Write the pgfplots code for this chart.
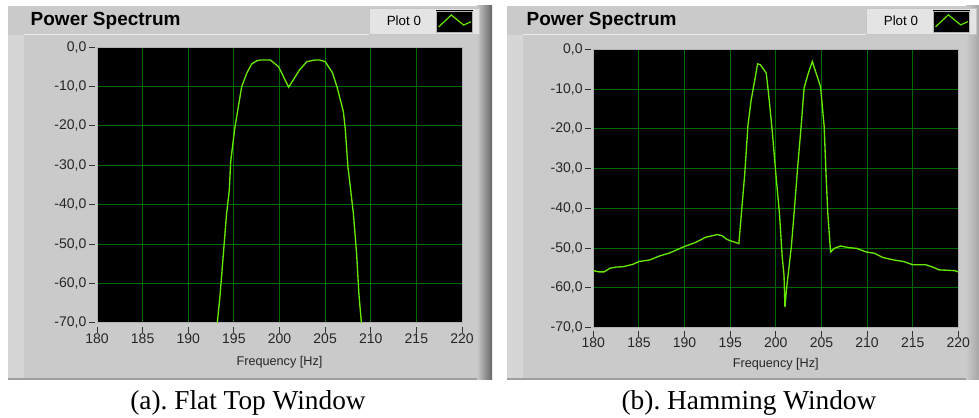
\documentclass[border=0pt]{standalone}
\usepackage{fontspec}
\setmainfont{Liberation Sans}
\newfontfamily\capfont{Liberation Serif}
\usepackage{pgfplots}
\pgfplotsset{compat=1.18}
\definecolor{panelgray}{RGB}{202,202,202}
\definecolor{panellight}{RGB}{214,214,214}
\definecolor{legendfill}{RGB}{228,228,228}
\definecolor{gridgreen}{RGB}{0,105,0}
\definecolor{curvegreen}{RGB}{102,232,0}

\pgfplotsset{
  lvaxis/.style={
    scale only axis,
    width=273.75pt,
    xmin=180, xmax=220, ymin=-70, ymax=0,
    xtick={180,185,...,220},
    xticklabels={180,185,190,195,200,205,210,215,220},
    ytick={-70,-60,...,0},
    yticklabels={{-70,0},{-60,0},{-50,0},{-40,0},{-30,0},{-20,0},{-10,0},{0,0}},
    grid=major,
    major grid style={gridgreen, line width=0.75pt},
    axis background/.style={fill=black},
    axis line style={gray!60, line width=0.75pt},
    tick align=outside,
    tick pos=left,
    major tick length=4.5pt,
    tick style={black!80, line width=0.75pt},
    xtick style={yshift=-3pt},
    ytick style={xshift=-1.5pt},
    ticklabel style={font=\fontsize{10.5}{12}\selectfont, text=black!85},
    xlabel={Frequency [Hz]},
    xlabel style={font=\fontsize{9.5}{11}\selectfont, text=black!85},
    legend plot pos=right,
    legend style={anchor=north east, fill=legendfill, draw=gray!45,
      inner xsep=5pt, inner ysep=1.5pt, nodes={inner sep=0pt},
      font=\fontsize{10}{12}\selectfont},
    legend image code/.code={
      \fill[black] (0pt,-7.9pt) rectangle (27pt,7.9pt);
      \draw[gray!60, line width=0.5pt] (0pt,-7.9pt) rectangle (27pt,7.9pt);
      \draw[curvegreen, line width=0.9pt] (1.7pt,-4.1pt) -- (11.25pt,4.9pt) -- (20.5pt,-2.6pt) -- (26pt,-0.15pt);
    },
  }
}

\begin{document}
\begin{tikzpicture}
\path[use as bounding box] (0pt,0pt) rectangle (734.25pt,313.5pt);
\begin{scope}[x=0.75pt,y=0.75pt]
  % left panel
  \fill[panelgray] (8,38) rectangle (492,412);
  \fill[panellight] (8,40) rectangle (24,383);
  \draw[white!85!gray, line width=0.75pt] (24,383) -- (477,383);
  \shade[left color=panelgray, right color=black!60] (477,38) rectangle (492,412);
  \draw[gray!75, line width=1.5pt] (8,39) -- (477,39);
  \node[anchor=base west, font=\bfseries\fontsize{14.25}{16}\selectfont] at (26,392) {Power Spectrum};
  % right panel
  \fill[panelgray] (507,38) rectangle (979,412);
  \fill[panellight] (507,40) rectangle (523,383);
  \draw[white!85!gray, line width=0.75pt] (523,383) -- (965,383);
  \shade[left color=panelgray, right color=black!35] (966,38) rectangle (979,412);
  \draw[gray!75, line width=1.5pt] (507,39) -- (966,39);
  \node[anchor=base west, font=\bfseries\fontsize{14.25}{16}\selectfont] at (522,392) {Power Spectrum};
  % captions
  \node[anchor=base, font=\capfont\fontsize{20.5}{24}\selectfont] at (248,8) {(a).\ Flat Top Window};
  \node[anchor=base, font=\capfont\fontsize{20.5}{24}\selectfont] at (749,8) {(b).\ Hamming Window};
\end{scope}

\begin{axis}[lvaxis, at={(72.75pt,71.25pt)}, anchor=south west, height=207pt,
  legend style={at={(axis description cs:1.049,1.141)}},
  xlabel style={at={(axis description cs:0.5,-0.143)}, anchor=center}]
\addplot[curvegreen, line width=1pt, mark=none] coordinates {
(193.1,-72) (193.5,-62.6) (193.85,-52.4) (194.2,-42.3) (194.5,-36.3)
(194.65,-29.1) (195.1,-20.6) (195.4,-16.4) (195.85,-10.1) (196.4,-6.7)
(196.95,-4.3) (197.5,-3.5) (197.9,-3.3) (199.0,-3.3) (199.9,-5.0)
(201.0,-10.2) (202.2,-5.8) (203.0,-3.7) (203.9,-3.3) (204.4,-3.3)
(205.0,-3.7) (205.8,-6.5) (206.3,-10.1) (207.0,-16.4) (207.2,-20.6)
(207.5,-30.4) (207.8,-36.3) (208.1,-42.3) (208.45,-52.4) (208.7,-62.6)
(209.05,-72)
};
\addlegendentry{\hspace*{8pt}Plot 0\hspace*{11pt}}
\end{axis}

\begin{axis}[lvaxis, at={(444.98pt,67.95pt)}, anchor=south west, height=208.35pt,
  legend style={at={(axis description cs:1.051,1.150)}},
  xlabel style={at={(axis description cs:0.5,-0.132)}, anchor=center}]
\addplot[curvegreen, line width=1pt, mark=none] coordinates {
(180,-55.7) (180.6,-56.0) (181.2,-56.0) (181.8,-55.1) (182.5,-54.8)
(183.3,-54.7) (184.35,-54.1) (185,-53.4) (186.2,-53.0) (187.25,-52.0)
(188.3,-51.3) (189.4,-50.2) (190,-49.6) (191.2,-48.6) (192.3,-47.3)
(193.6,-46.6) (194.1,-46.9) (194.7,-47.9) (195.6,-48.6) (195.95,-48.9)
(196.2,-42.1) (196.6,-31.2) (196.95,-19.0) (197.3,-12.7) (197.7,-7.6)
(198.0,-3.6) (198.3,-3.8) (198.95,-5.9) (199.2,-11.0) (199.6,-20.3)
(200.0,-31.2) (200.4,-41.3) (200.7,-52.2) (200.9,-56.9) (201.0,-64.9)
(201.2,-59.8) (201.7,-49.7) (202.0,-41.3) (202.4,-29.5) (202.8,-18.6)
(203.1,-9.7) (203.5,-6.4) (204.0,-3.0) (204.9,-9.3) (205.3,-19.4)
(205.5,-31.2) (205.7,-41.3) (206.0,-51.0) (206.4,-50.1) (207.1,-49.5)
(208.0,-49.9) (208.9,-50.1) (209.9,-51.0) (210.8,-51.3) (211.75,-52.4)
(212.9,-53.0) (214.0,-53.4) (215,-54.2) (216.4,-54.2) (217.2,-54.8)
(217.9,-55.5) (219.6,-55.7) (220,-56.0)
};
\addlegendentry{\hspace*{8pt}Plot 0\hspace*{11pt}}
\end{axis}
\end{tikzpicture}
\end{document}
